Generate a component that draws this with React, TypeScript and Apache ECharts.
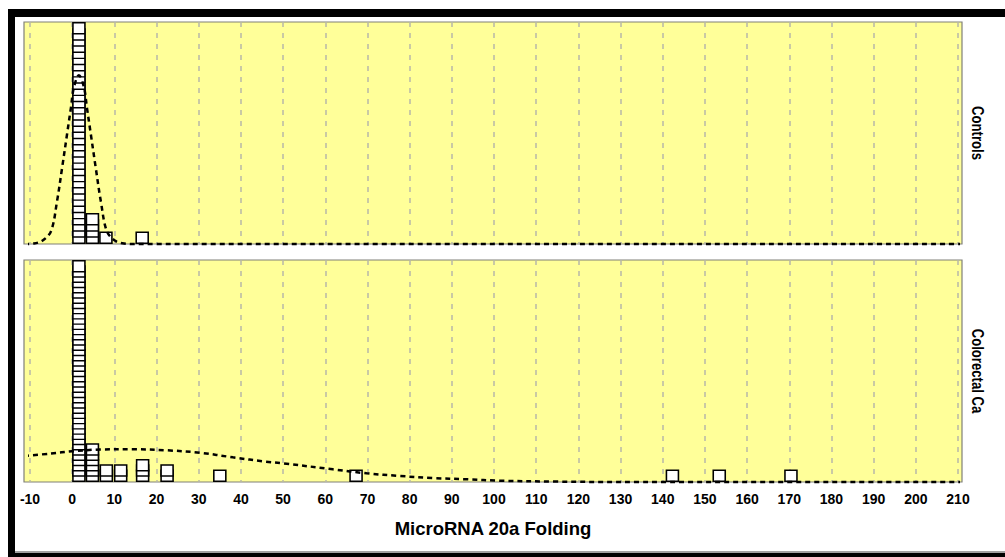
import React, { useEffect, useRef } from "react";
import * as echarts from "echarts";

// ---- data ----
const xMin = -10;
const xMax = 210;
const xStep = 10;

const panelNames = ["Controls", "Colorectal Ca"];
const axisTitle = "MicroRNA 20a Folding";

// dot-plot bins (x centre) and number of stacked squares
const controlsBins = [1.6, 4.8, 8.0, 16.6];
const controlsCounts = [35, 4, 1, 1];
const crcBins = [1.6, 4.8, 8.1, 11.5, 16.7, 22.5, 35.0, 67.3, 142.3, 153.4, 170.4];
const crcCounts = [41, 6, 2, 2, 3, 2, 1, 1, 1, 1, 1];

// fitted curves (x, height in square-step units)
const controlsCurveX = [-11.4, -9.1, -7.0, -5.0, -3.6, -2.4, -1.2, -0.3, 0.4, 1.6, 2.8, 3.5, 4.4, 5.6, 6.8, 8.2, 10.1, 12.3, 15, 210.9];
const controlsCurveY = [0, 0.08, 0.57, 2.1, 6.9, 12.3, 17.9, 22.1, 25.4, 27.4, 25.4, 22.1, 17.9, 12.3, 6.9, 2.1, 0.57, 0.08, 0, 0];
const crcCurveX = [-11.4, -5, 0, 6.6, 14.4, 22.5, 30.3, 38.1, 46, 50, 61.8, 69.8, 77.7, 85.5, 93.5, 101.4, 115, 130, 210.9];
const crcCurveY = [4.96, 5.44, 5.86, 6.2, 6.26, 6.05, 5.59, 4.71, 3.87, 3.57, 2.42, 1.66, 1.15, 0.76, 0.52, 0.25, 0.08, 0, 0];

// ---- layout ----
const W = 1005;
const H = 557;
const panelLeft = 24;
const panelRight = 962;
const gridLeft = 30;
const gridWidth = 928;
const panelTops = [22, 260];
const panelH = 222;
const sqW = 12;
const sqH = 11;
const sqBorder = 1.5;
const sqOuterH = sqH + sqBorder;

function yMaxFor(counts: number[]) {
  const n = Math.max(...counts);
  return ((n - 1) * panelH) / (panelH - sqOuterH);
}

function stackPoints(bins: number[], counts: number[], yMax: number) {
  const stepPx = panelH / yMax;
  const half = sqOuterH / 2 / stepPx;
  const pts: number[][] = [];
  const n = Math.max(...counts);
  for (let k = 0; k < n; k++) {
    bins.forEach((b, i) => {
      if (counts[i] > k) pts.push([b, k + half]);
    });
  }
  return pts;
}

const sansFont = "'Liberation Sans', Arial, sans-serif";

export default function App() {
  const ref = useRef<HTMLDivElement>(null);
  useEffect(() => {
    if (!ref.current) return;
    const chart = echarts.init(ref.current, null, { renderer: "svg" });
    const yMaxes = [yMaxFor(controlsCounts), yMaxFor(crcCounts)];
    const stacks = [
      stackPoints(controlsBins, controlsCounts, yMaxes[0]),
      stackPoints(crcBins, crcCounts, yMaxes[1]),
    ];
    const curves = [
      controlsCurveX.map((x, i) => [x, controlsCurveY[i]]),
      crcCurveX.map((x, i) => [x, crcCurveY[i]]),
    ];

    const graphic: any[] = [
      { type: "rect", z: -10, silent: true, shape: { x: 8, y: 9, width: W - 8, height: 8 }, style: { fill: "#000" } },
      { type: "rect", z: -10, silent: true, shape: { x: 8, y: 9, width: 7, height: H - 9 }, style: { fill: "#000" } },
      { type: "rect", z: -10, silent: true, shape: { x: 8, y: 553, width: W - 8, height: 4 }, style: { fill: "#000" } },
      { type: "line", z: -9, silent: true, shape: { x1: 15, y1: 552, x2: W, y2: 552 }, style: { stroke: "#a0a0a0", lineWidth: 2 } },
    ];
    panelTops.forEach((t, i) => {
      graphic.push({
        type: "rect",
        z: -5,
        silent: true,
        shape: { x: panelLeft, y: t, width: panelRight - panelLeft, height: panelH },
        style: { fill: "#ffff99", stroke: "#808078", lineWidth: 1.2 },
      });
      graphic.push({
        type: "text",
        z: 10,
        x: 977,
        y: t + panelH / 2,
        rotation: -Math.PI / 2,
        scaleX: 0.82,
        style: {
          text: panelNames[i],
          font: `bold 16px ${sansFont}`,
          fill: "#000",
          textAlign: "center",
          textVerticalAlign: "middle",
        },
      });
    });
    graphic.push({
      type: "text",
      z: 10,
      x: (panelLeft + panelRight) / 2,
      y: 528,
      style: {
        text: axisTitle,
        font: `bold 18.5px ${sansFont}`,
        fill: "#000",
        textAlign: "center",
        textVerticalAlign: "middle",
      },
    });

    const option: any = {
      animation: false,
      backgroundColor: "#fff",
      graphic,
      grid: panelTops.map((t) => ({ left: gridLeft, top: t, width: gridWidth, height: panelH, containLabel: false })),
      xAxis: [0, 1].map((i) => ({
        type: "value",
        gridIndex: i,
        min: xMin,
        max: xMax,
        interval: xStep,
        z: 1,
        axisLine: { show: false },
        axisTick: { show: false },
        axisLabel: {
          show: i === 1,
          margin: 10,
          color: "#000",
          fontWeight: "bold",
          fontSize: 14,
          fontFamily: sansFont,
        },
        splitLine: { show: true, lineStyle: { color: "#b8b8a8", width: 1.5, type: [5, 6] } },
      })),
      yAxis: [0, 1].map((i) => ({
        type: "value",
        gridIndex: i,
        min: 0,
        max: yMaxes[i],
        show: false,
        splitLine: { show: false },
      })),
      series: [0, 1].flatMap((i) => [
        {
          type: "scatter",
          xAxisIndex: i,
          yAxisIndex: i,
          z: 3,
          symbol: "rect",
          symbolSize: [sqW, sqH],
          itemStyle: { color: "#fff", borderColor: "#000", borderWidth: sqBorder, opacity: 1 },
          data: stacks[i],
        },
        {
          type: "line",
          xAxisIndex: i,
          yAxisIndex: i,
          z: 4,
          clip: false,
          smooth: 0.35,
          symbol: "none",
          lineStyle: { color: "#000", width: 2.5, type: [5, 4] },
          data: curves[i],
        },
      ]),
    };
    chart.setOption(option);
    return () => chart.dispose();
  }, []);
  return <div ref={ref} style={{ position: "fixed", left: 0, top: 0, width: W, height: H }} />;
}
